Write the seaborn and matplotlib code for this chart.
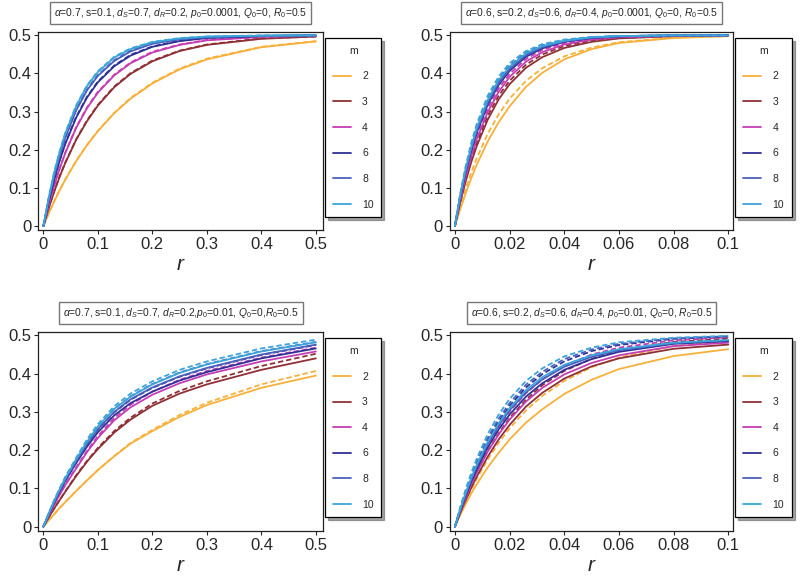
import matplotlib
matplotlib.use("Agg")
import matplotlib.pyplot as plt
from matplotlib.lines import Line2D
import pandas as pd
import seaborn as sns

m_values = [2, 3, 4, 6, 8, 10]
m_colors = ["#F7B03A", "#8E3035", "#C53DB5", "#2F3096", "#4A60BE", "#3BA5DA"]

# r grids (left panels run to 0.5, right panels to 0.1)
r_wide = [0, 0.01, 0.02, 0.03, 0.04, 0.06, 0.08, 0.1, 0.13, 0.16, 0.2, 0.25, 0.3, 0.4, 0.5]
r_narrow = [0, 0.002, 0.004, 0.006, 0.008, 0.012, 0.016, 0.02, 0.026, 0.032, 0.04, 0.05, 0.06, 0.08, 0.1]

# top left: p0=0.0001
tl_solid = [
    [0, .034, .065, .094, .121, .170, .212, .249, .296, .334, .374, .411, .437, .469, .484],
    [0, .048, .091, .130, .165, .226, .275, .316, .364, .399, .432, .459, .475, .491, .497],
    [0, .057, .107, .151, .191, .257, .309, .350, .395, .427, .455, .475, .487, .496, .499],
    [0, .066, .122, .172, .215, .284, .337, .377, .419, .447, .470, .485, .493, .498, .500],
    [0, .072, .133, .186, .231, .303, .356, .394, .433, .458, .478, .490, .495, .499, .500],
    [0, .076, .141, .195, .242, .314, .367, .404, .442, .464, .482, .492, .497, .499, .500],
]
tl_dashed = [
    [0, .034, .066, .095, .122, .171, .213, .250, .297, .336, .376, .413, .439, .470, .485],
    [0, .049, .092, .131, .166, .227, .277, .318, .366, .401, .434, .460, .476, .492, .497],
    [0, .057, .108, .152, .192, .259, .311, .352, .397, .429, .457, .476, .488, .496, .499],
    [0, .067, .124, .174, .217, .286, .339, .379, .421, .449, .471, .486, .494, .498, .500],
    [0, .073, .135, .188, .233, .305, .358, .396, .435, .460, .479, .490, .496, .499, .500],
    [0, .077, .143, .197, .244, .316, .369, .406, .444, .466, .483, .493, .497, .500, .500],
]

# top right
tr_solid = [
    [0, .045, .087, .126, .161, .222, .272, .314, .365, .402, .437, .464, .480, .493, .498],
    [0, .064, .119, .168, .210, .279, .332, .372, .415, .443, .467, .483, .492, .498, .500],
    [0, .071, .131, .183, .228, .299, .352, .391, .431, .456, .476, .489, .495, .499, .500],
    [0, .077, .143, .198, .245, .318, .370, .407, .444, .466, .483, .493, .497, .500, .500],
    [0, .080, .147, .203, .250, .323, .375, .412, .448, .469, .484, .494, .498, .500, .500],
    [0, .083, .152, .209, .258, .331, .383, .418, .453, .472, .486, .495, .498, .500, .500],
]
tr_dashed = [
    [0, .052, .099, .141, .178, .242, .293, .334, .381, .414, .445, .468, .482, .494, .498],
    [0, .067, .125, .175, .219, .289, .342, .381, .423, .450, .472, .486, .493, .498, .500],
    [0, .074, .137, .191, .237, .309, .361, .399, .438, .462, .480, .491, .496, .499, .500],
    [0, .081, .149, .205, .253, .326, .378, .414, .450, .470, .485, .494, .498, .500, .500],
    [0, .084, .154, .212, .261, .334, .386, .421, .455, .474, .487, .495, .498, .500, .500],
    [0, .087, .159, .219, .268, .342, .392, .427, .459, .477, .489, .496, .498, .500, .500],
]

# bottom left: p0=0.01
bl_solid = [
    [0, .017, .033, .049, .064, .093, .121, .148, .184, .217, .250, .287, .318, .363, .395],
    [0, .025, .048, .070, .091, .132, .170, .203, .246, .280, .316, .348, .372, .410, .440],
    [0, .030, .058, .084, .108, .152, .195, .232, .278, .312, .345, .375, .398, .432, .458],
    [0, .033, .064, .092, .119, .166, .209, .247, .291, .323, .353, .382, .404, .440, .466],
    [0, .034, .066, .095, .123, .171, .216, .255, .300, .333, .364, .393, .415, .450, .476],
    [0, .035, .068, .098, .126, .176, .222, .262, .308, .340, .372, .402, .424, .458, .482],
]
bl_dashed = [
    [0, .017, .033, .049, .064, .093, .121, .148, .185, .219, .253, .292, .324, .372, .407],
    [0, .025, .048, .070, .092, .134, .172, .206, .250, .285, .322, .355, .380, .420, .452],
    [0, .030, .058, .085, .110, .155, .198, .237, .284, .319, .353, .384, .407, .442, .468],
    [0, .034, .066, .095, .123, .171, .215, .254, .299, .332, .363, .392, .414, .449, .475],
    [0, .035, .068, .098, .127, .176, .222, .262, .308, .341, .373, .403, .425, .459, .483],
    [0, .036, .070, .101, .130, .180, .228, .268, .315, .348, .380, .410, .432, .466, .489],
]

# bottom right
br_solid = [
    [0, .031, .060, .087, .111, .155, .193, .228, .272, .307, .347, .384, .412, .446, .464],
    [0, .037, .070, .102, .131, .183, .228, .266, .314, .350, .387, .419, .440, .465, .476],
    [0, .040, .077, .111, .142, .196, .241, .280, .327, .363, .398, .428, .448, .472, .481],
    [0, .043, .082, .118, .150, .207, .254, .293, .340, .375, .410, .438, .457, .478, .485],
    [0, .045, .086, .124, .158, .216, .264, .304, .351, .385, .418, .444, .461, .480, .487],
    [0, .047, .089, .128, .162, .222, .270, .310, .357, .391, .423, .448, .464, .481, .488],
]
br_dashed = [
    [0, .035, .067, .097, .125, .176, .219, .257, .304, .342, .381, .417, .442, .472, .486],
    [0, .040, .077, .111, .143, .198, .244, .284, .332, .370, .407, .439, .460, .483, .492],
    [0, .044, .084, .121, .154, .212, .261, .301, .349, .385, .421, .450, .468, .487, .495],
    [0, .048, .091, .130, .165, .226, .275, .316, .364, .399, .432, .459, .475, .491, .497],
    [0, .049, .094, .134, .170, .232, .282, .323, .371, .405, .438, .463, .478, .492, .498],
    [0, .052, .099, .141, .178, .242, .293, .334, .381, .414, .445, .468, .482, .494, .499],
]

titles = [
    r"$\alpha$=0.7, s=0.1, $d_S$=0.7, $d_R$=0.2, $p_0$=0.0001, $Q_0$=0, $R_0$=0.5",
    r"$\alpha$=0.6, s=0.2, $d_S$=0.6, $d_R$=0.4, $p_0$=0.0001, $Q_0$=0, $R_0$=0.5",
    r"$\alpha$=0.7, s=0.1, $d_S$=0.7, $d_R$=0.2,$p_0$=0.01, $Q_0$=0,$R_0$=0.5",
    r"$\alpha$=0.6, s=0.2, $d_S$=0.6, $d_R$=0.4, $p_0$=0.01, $Q_0$=0, $R_0$=0.5",
]

sns.set_style("ticks")
plt.rcParams['font.family'] = ['Liberation Sans', 'DejaVu Sans']
plt.rcParams['mathtext.fontset'] = 'custom'
plt.rcParams['mathtext.rm'] = 'Liberation Sans'
plt.rcParams['mathtext.it'] = 'Liberation Sans:italic'


def long_frame(r, solid, dashed):
    rows = []
    for m, ys in zip(m_values, solid):
        for x, y in zip(r, ys):
            rows.append({"r": x, "y": y, "m": m, "kind": "solid"})
    for m, ys in zip(m_values, dashed):
        for x, y in zip(r, ys):
            rows.append({"r": x, "y": y, "m": m, "kind": "dashed"})
    return pd.DataFrame(rows)


def draw_panel(ax, r, solid, dashed, wide, title):
    df = long_frame(r, solid, dashed)
    sns.lineplot(data=df, x="r", y="y", hue="m", style="kind",
                 hue_order=m_values, palette=dict(zip(m_values, m_colors)),
                 style_order=["solid", "dashed"],
                 dashes={"solid": "", "dashed": (3, 1.6)},
                 estimator=None, sort=False, legend=False, lw=1.3, ax=ax)

    if wide:
        ax.set_xlim(-0.0092, 0.5127)
        ax.set_xticks([0, 0.1, 0.2, 0.3, 0.4, 0.5])
        ax.set_xticklabels(["0", "0.1", "0.2", "0.3", "0.4", "0.5"])
    else:
        ax.set_xlim(-0.0018, 0.1018)
        ax.set_xticks([0, 0.02, 0.04, 0.06, 0.08, 0.1])
        ax.set_xticklabels(["0", "0.02", "0.04", "0.06", "0.08", "0.1"])
    ax.set_ylim(-0.011, 0.508)
    ax.set_yticks([0, 0.1, 0.2, 0.3, 0.4, 0.5])
    ax.set_yticklabels(["0", "0.1", "0.2", "0.3", "0.4", "0.5"])

    ax.set_xlabel("r", fontstyle="italic", fontsize=15, labelpad=2)
    ax.set_ylabel("")
    ax.tick_params(direction="out", length=3, width=0.8, labelsize=12, pad=2)
    for s in ax.spines.values():
        s.set_linewidth(0.9)
        s.set_color("#222222")

    ax.text(0.5, 1.097, title, transform=ax.transAxes, ha="center", va="center",
            fontsize=7.4,
            bbox=dict(boxstyle="square,pad=0.4", fc="white", ec="#777777", lw=1.0))

    handles = [Line2D([], [], color=c, lw=1.3) for c in m_colors]
    leg = ax.legend(handles, [str(m) for m in m_values], title="m",
                    loc="upper left", bbox_to_anchor=(1.008, 0.971),
                    frameon=True, fancybox=False, shadow=True,
                    edgecolor="black", fontsize=7.5, title_fontsize=7.5,
                    labelspacing=1.5, handlelength=1.7, handletextpad=1.1,
                    borderpad=0.75, borderaxespad=0)
    leg.get_frame().set_linewidth(0.9)


fig = plt.figure(figsize=(8, 5.77), dpi=100)
ax1 = fig.add_axes([0.048, 0.601, 0.3555, 0.343])
ax2 = fig.add_axes([0.5625, 0.601, 0.354, 0.343])
ax3 = fig.add_axes([0.048, 0.080, 0.3555, 0.344])
ax4 = fig.add_axes([0.5625, 0.080, 0.354, 0.344])

draw_panel(ax1, r_wide, tl_solid, tl_dashed, True, titles[0])
draw_panel(ax2, r_narrow, tr_solid, tr_dashed, False, titles[1])
draw_panel(ax3, r_wide, bl_solid, bl_dashed, True, titles[2])
draw_panel(ax4, r_narrow, br_solid, br_dashed, False, titles[3])

fig.savefig("out.png", dpi=100)
plt.close(fig)
